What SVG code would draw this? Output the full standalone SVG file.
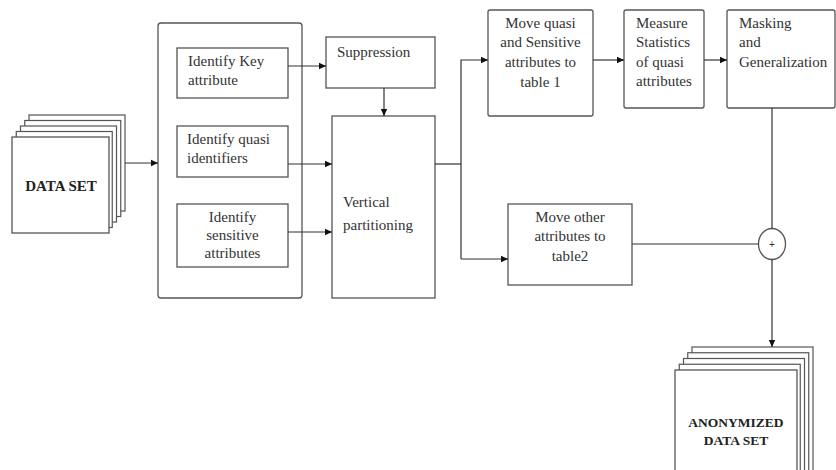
<svg xmlns="http://www.w3.org/2000/svg" width="836" height="470" viewBox="0 0 836 470">
<defs>
<style>
.b{fill:#fff;stroke:#555;stroke-width:1.3}
.s{fill:#fff;stroke:#555;stroke-width:1.2}
.t{font-family:"Liberation Serif","Times New Roman",serif;font-size:15px;fill:#333}
.c{text-anchor:middle}
.bold{font-weight:bold;fill:#222}
.ln{fill:none;stroke:#333;stroke-width:1.2}
</style>
<marker id="ah" markerWidth="8" markerHeight="8" refX="7" refY="4" orient="auto" markerUnits="userSpaceOnUse">
<path d="M0,0.8 L7,4 L0,7.2 Z" fill="#111"/>
</marker>
</defs>
<rect width="836" height="470" fill="#fff"/>

<g id="dataset">
<rect class="s" x="29" y="115" width="96" height="96"/>
<rect class="s" x="24.75" y="120.5" width="96" height="96"/>
<rect class="s" x="20.5" y="126" width="96" height="96"/>
<rect class="s" x="16.25" y="131.5" width="96" height="96"/>
<rect class="b" x="12" y="137" width="97" height="96"/>
<text class="t bold c" x="61" y="191">DATA SET</text>
</g>

<g id="identify-group">
<rect class="b" x="158" y="23" width="144" height="275" rx="3"/>
</g>

<g id="identify-key">
<rect class="b" x="177" y="48" width="111" height="50"/>
<text class="t" x="188" y="66">Identify Key</text>
<text class="t" x="188" y="85">attribute</text>
</g>

<g id="identify-quasi">
<rect class="b" x="177" y="126" width="111" height="51"/>
<text class="t" x="187" y="144">Identify quasi</text>
<text class="t" x="187" y="163">identifiers</text>
</g>

<g id="identify-sensitive">
<rect class="b" x="177" y="204" width="111" height="63"/>
<text class="t c" x="232.5" y="222">Identify</text>
<text class="t c" x="232.5" y="240">sensitive</text>
<text class="t c" x="232.5" y="258">attributes</text>
</g>

<g id="suppression">
<rect class="b" x="326" y="37" width="109" height="51"/>
<text class="t" x="337" y="57">Suppression</text>
</g>

<g id="vertical-partitioning">
<rect class="b" x="332" y="116" width="103" height="182"/>
<text class="t" x="343" y="207">Vertical</text>
<text class="t" x="343" y="230">partitioning</text>
</g>

<g id="move-quasi">
<rect class="b" x="488" y="10" width="105" height="106" rx="2"/>
<text class="t c" x="540.5" y="28">Move quasi</text>
<text class="t c" x="540.5" y="47">and Sensitive</text>
<text class="t c" x="540.5" y="67">attributes to</text>
<text class="t c" x="540.5" y="87">table 1</text>
</g>

<g id="measure-statistics">
<rect class="b" x="624" y="10" width="80" height="98" rx="2"/>
<text class="t" x="636" y="28">Measure</text>
<text class="t" x="636" y="47">Statistics</text>
<text class="t" x="636" y="67">of quasi</text>
<text class="t" x="636" y="86">attributes</text>
</g>

<g id="masking">
<rect class="b" x="727" y="10" width="108" height="98" rx="2"/>
<text class="t" x="739" y="28">Masking</text>
<text class="t" x="739" y="47">and</text>
<text class="t" x="739" y="67">Generalization</text>
</g>

<g id="move-other">
<rect class="b" x="508" y="204" width="124" height="81"/>
<text class="t c" x="570" y="222">Move other</text>
<text class="t c" x="570" y="241">attributes to</text>
<text class="t c" x="570" y="261">table2</text>
</g>

<g id="combine">
<ellipse class="b" cx="772" cy="244" rx="13.5" ry="15.5"/>
<text x="772" y="248" text-anchor="middle" style="font-family:'Liberation Sans',Arial,sans-serif;font-size:10px;fill:#333">+</text>
</g>

<g id="anonymized">
<rect class="s" x="692" y="347" width="121" height="130"/>
<rect class="s" x="687.75" y="352.75" width="121" height="130"/>
<rect class="s" x="683.5" y="358.5" width="121" height="130"/>
<rect class="s" x="679.25" y="364.25" width="121" height="130"/>
<rect class="b" x="675" y="370" width="122" height="130"/>
<text class="t bold c" x="736" y="427" style="font-size:13.5px">ANONYMIZED</text>
<text class="t bold c" x="736" y="445" style="font-size:13.5px">DATA SET</text>
</g>

<g id="connectors">
<path class="ln" d="M125,163 H158" marker-end="url(#ah)"/>
<path class="ln" d="M288,66 H326" marker-end="url(#ah)"/>
<path class="ln" d="M288,164 H332" marker-end="url(#ah)"/>
<path class="ln" d="M288,232 H332" marker-end="url(#ah)"/>
<path class="ln" d="M384,88 V116" marker-end="url(#ah)"/>
<path class="ln" d="M435,164 H461"/>
<path class="ln" d="M461,259 V60 H488" marker-end="url(#ah)"/>
<path class="ln" d="M461,259 H508" marker-end="url(#ah)"/>
<path class="ln" d="M593,60 H624" marker-end="url(#ah)"/>
<path class="ln" d="M704,60 H727" marker-end="url(#ah)"/>
<path class="ln" d="M772,108 V228.5"/>
<path class="ln" d="M632,244 H758.5"/>
<path class="ln" d="M772,259.5 V347" marker-end="url(#ah)"/>
</g>
</svg>
